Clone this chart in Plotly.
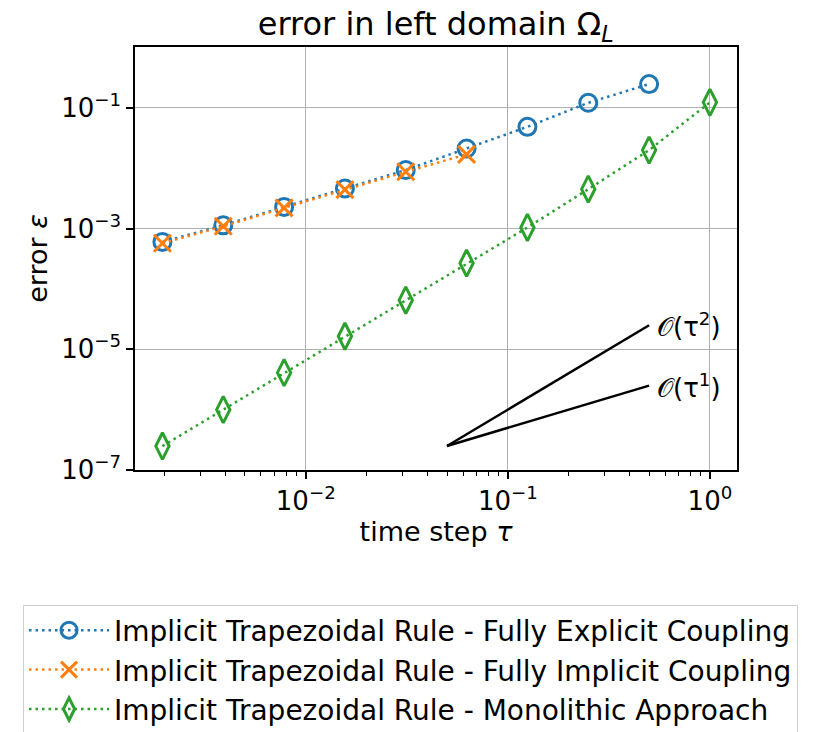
import math
import plotly.graph_objects as go

# time step sizes tau = 2^-9 ... 2^0
tau = [1/512, 1/256, 1/128, 1/64, 1/32, 1/16, 1/8, 1/4, 1/2, 1.0]

err_explicit = [6.0e-4, 1.13e-3, 2.28e-3, 4.6e-3, 9.3e-3, 2.12e-2, 4.84e-2, 0.121, 0.247]
err_implicit = [5.7e-4, 1.09e-3, 2.2e-3, 4.4e-3, 8.7e-3, 1.69e-2]
err_monolithic = [2.49e-7, 1.0e-6, 4.1e-6, 1.64e-5, 6.5e-5, 2.67e-4, 1.04e-3, 4.49e-3, 1.99e-2, 0.123]

# reference slopes
ref_tau = [0.05, 0.5]
ref_order2 = [2.5e-7, 2.5e-5]
ref_order1 = [2.5e-7, 2.5e-6]
ref_labels = ["𝒪(τ<sup>2</sup>)", "𝒪(τ<sup>1</sup>)"]

names = [
    "Implicit Trapezoidal Rule - Fully Explicit Coupling",
    "Implicit Trapezoidal Rule - Fully Implicit Coupling",
    "Implicit Trapezoidal Rule - Monolithic Approach",
]
colors = ["#1f77b4", "#ff7f0e", "#2ca02c"]

FONT = "DejaVu Sans"
dotted = "2.5px,4px"

fig = go.Figure()

fig.add_trace(go.Scatter(
    x=tau[:len(err_explicit)], y=err_explicit, name=names[0], mode="lines+markers",
    line=dict(color=colors[0], width=2.5, dash=dotted),
    marker=dict(symbol="circle-open", size=17, color=colors[0], line=dict(width=3, color=colors[0])),
))
fig.add_trace(go.Scatter(
    x=tau[:len(err_implicit)], y=err_implicit, name=names[1], mode="lines+markers",
    line=dict(color=colors[1], width=2.5, dash=dotted),
    marker=dict(symbol="x-thin", size=17, color=colors[1], line=dict(width=3, color=colors[1])),
))
fig.add_trace(go.Scatter(
    x=tau, y=err_monolithic, name=names[2], mode="lines+markers",
    line=dict(color=colors[2], width=2.5, dash=dotted),
    marker=dict(symbol="diamond-tall-open", size=19, color=colors[2], line=dict(width=3, color=colors[2])),
))

for yref, label in zip((ref_order2, ref_order1), ref_labels):
    fig.add_trace(go.Scatter(
        x=ref_tau, y=yref, mode="lines", showlegend=False, hoverinfo="skip",
        line=dict(color="black", width=2.5),
    ))
    fig.add_annotation(
        x=math.log10(ref_tau[-1]), y=math.log10(yref[-1]),
        xref="x", yref="y", text=label, showarrow=False,
        xanchor="left", yanchor="middle", xshift=6,
        font=dict(family=FONT, size=26, color="black"),
    )

minor_x = [m * 10.0 ** e for e in (-3, -2, -1) for m in range(2, 10)]

fig.update_xaxes(
    type="log", range=[-2.845, 0.134], automargin=False,
    tickvals=[1e-2, 1e-1, 1.0],
    ticktext=["10<sup>−2</sup>", "10<sup>−1</sup>", "10<sup>0</sup>"],
    ticks="outside", ticklen=7, tickwidth=1.5, tickcolor="black",
    showline=True, linecolor="black", linewidth=1.5, mirror=True,
    showgrid=True, gridcolor="#b0b0b0", gridwidth=1.2, zeroline=False,
    minor=dict(tickvals=minor_x, ticks="outside", ticklen=4, tickwidth=1, tickcolor="black", showgrid=False),
    tickfont=dict(family=FONT, size=26, color="black"),
    title=dict(text="time step <i>τ</i>", font=dict(family=FONT, size=27, color="black"), standoff=6),
)
fig.update_yaxes(
    type="log", range=[-7, 0.007], automargin=False,
    tickvals=[1e-7, 1e-5, 1e-3, 1e-1],
    ticktext=["10<sup>−7</sup>", "10<sup>−5</sup>", "10<sup>−3</sup>", "10<sup>−1</sup>"],
    ticks="outside", ticklen=7, tickwidth=1.5, tickcolor="black",
    showline=True, linecolor="black", linewidth=1.5, mirror=True,
    showgrid=True, gridcolor="#b0b0b0", gridwidth=1.2, zeroline=False,
    tickfont=dict(family=FONT, size=26, color="black"),
    title=dict(text="error <i>ε</i>", font=dict(family=FONT, size=27, color="black"), standoff=6),
)

fig.update_layout(
    width=813, height=732,
    margin=dict(l=135, r=76, t=47, b=262, autoexpand=False),
    paper_bgcolor="white", plot_bgcolor="white",
    title=dict(text="error in left domain Ω<sub><i>L</i></sub>", x=0.536, xanchor="center",
               y=0.967, yanchor="middle", font=dict(family=FONT, size=32, color="black")),
    legend=dict(
        x=-0.186, y=-0.318, xanchor="left", yanchor="top",
        bordercolor="#d0d0d0", borderwidth=1, bgcolor="white",
        font=dict(family=FONT, size=28, color="black"),
        itemwidth=80, tracegroupgap=0,
    ),
    showlegend=True,
)

fig.write_html("out.html")
